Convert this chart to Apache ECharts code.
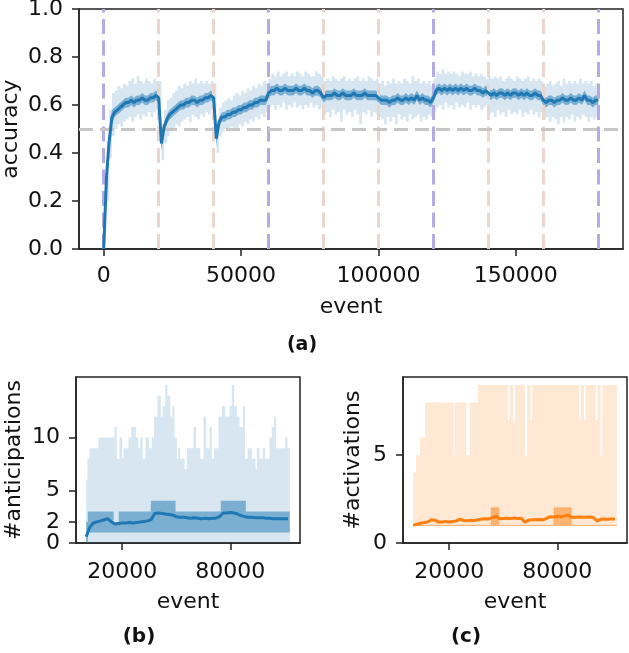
<!DOCTYPE html>
<html>
<head>
<meta charset="utf-8">
<script src="https://cdn.jsdelivr.net/npm/echarts@6.0.0/dist/echarts.min.js"></script>
<style>
  html, body { margin: 0; padding: 0; background: #fff; }
  #chart { width: 629px; height: 653px; }
</style>
</head>
<body>
<div id="chart"></div>
<script>
// ---- (a) accuracy, one sample every 1000 events from 0 to 180000 ----
var accStep = 1000;
var accMean = [0.00,0.30,0.45,0.55,0.57,0.58,0.59,0.60,0.61,0.61,
0.62,0.61,0.62,0.62,0.63,0.62,0.62,0.63,0.63,0.64,
0.63,0.44,0.51,0.54,0.56,0.57,0.58,0.59,0.60,0.60,
0.61,0.61,0.62,0.62,0.61,0.62,0.62,0.63,0.63,0.64,
0.63,0.46,0.53,0.55,0.55,0.56,0.56,0.57,0.57,0.58,
0.58,0.59,0.59,0.60,0.60,0.61,0.61,0.62,0.62,0.62,
0.65,0.66,0.66,0.67,0.66,0.66,0.67,0.66,0.66,0.66,
0.67,0.66,0.66,0.67,0.66,0.66,0.65,0.66,0.66,0.65,
0.63,0.64,0.64,0.64,0.65,0.64,0.64,0.65,0.64,0.64,
0.64,0.65,0.64,0.64,0.64,0.65,0.64,0.64,0.64,0.64,
0.63,0.62,0.62,0.62,0.61,0.62,0.62,0.63,0.62,0.62,
0.63,0.62,0.63,0.62,0.64,0.62,0.63,0.62,0.62,0.61,
0.63,0.66,0.67,0.66,0.67,0.66,0.67,0.66,0.67,0.66,
0.67,0.66,0.67,0.66,0.66,0.67,0.66,0.66,0.65,0.66,
0.65,0.64,0.65,0.64,0.65,0.65,0.64,0.65,0.64,0.65,
0.65,0.64,0.65,0.64,0.65,0.64,0.64,0.65,0.64,0.64,
0.62,0.61,0.62,0.62,0.61,0.62,0.62,0.63,0.62,0.62,
0.63,0.62,0.62,0.63,0.62,0.64,0.62,0.62,0.61,0.62,
0.62];
var accInLo = [0.00,0.25,0.41,0.52,0.55,0.56,0.57,0.58,0.59,0.59,
0.60,0.59,0.60,0.60,0.61,0.60,0.60,0.61,0.61,0.62,
0.61,0.41,0.49,0.52,0.54,0.55,0.56,0.57,0.58,0.58,
0.59,0.59,0.60,0.60,0.59,0.60,0.60,0.61,0.61,0.62,
0.61,0.43,0.51,0.53,0.53,0.54,0.54,0.55,0.55,0.56,
0.56,0.57,0.57,0.58,0.58,0.59,0.59,0.60,0.60,0.60,
0.63,0.64,0.64,0.65,0.64,0.64,0.65,0.64,0.64,0.64,
0.65,0.64,0.64,0.65,0.64,0.64,0.63,0.64,0.64,0.63,
0.61,0.62,0.62,0.62,0.63,0.62,0.62,0.63,0.62,0.62,
0.62,0.63,0.62,0.62,0.62,0.63,0.62,0.62,0.62,0.62,
0.61,0.60,0.60,0.60,0.59,0.60,0.60,0.61,0.60,0.60,
0.61,0.60,0.61,0.60,0.62,0.60,0.61,0.60,0.60,0.59,
0.61,0.64,0.65,0.64,0.65,0.64,0.65,0.64,0.65,0.64,
0.65,0.64,0.65,0.64,0.64,0.65,0.64,0.64,0.63,0.64,
0.63,0.62,0.63,0.62,0.63,0.63,0.62,0.63,0.62,0.63,
0.63,0.62,0.63,0.62,0.63,0.62,0.62,0.63,0.62,0.62,
0.60,0.59,0.60,0.60,0.59,0.60,0.60,0.61,0.60,0.60,
0.61,0.60,0.60,0.61,0.60,0.62,0.60,0.60,0.59,0.60,
0.60];
var accInHi = [0.00,0.36,0.50,0.58,0.59,0.60,0.61,0.62,0.63,0.63,
0.64,0.63,0.64,0.64,0.65,0.64,0.64,0.65,0.65,0.66,
0.65,0.47,0.53,0.56,0.58,0.59,0.60,0.61,0.62,0.62,
0.63,0.63,0.64,0.64,0.63,0.64,0.64,0.65,0.65,0.66,
0.65,0.49,0.55,0.57,0.57,0.58,0.58,0.59,0.59,0.60,
0.60,0.61,0.61,0.62,0.62,0.63,0.63,0.64,0.64,0.64,
0.67,0.68,0.68,0.69,0.68,0.68,0.69,0.68,0.68,0.68,
0.69,0.68,0.68,0.69,0.68,0.68,0.67,0.68,0.68,0.67,
0.65,0.66,0.66,0.66,0.67,0.66,0.66,0.67,0.66,0.66,
0.66,0.67,0.66,0.66,0.66,0.67,0.66,0.66,0.66,0.66,
0.65,0.64,0.64,0.64,0.63,0.64,0.64,0.65,0.64,0.64,
0.65,0.64,0.65,0.64,0.66,0.64,0.65,0.64,0.64,0.63,
0.65,0.68,0.69,0.68,0.69,0.68,0.69,0.68,0.69,0.68,
0.69,0.68,0.69,0.68,0.68,0.69,0.68,0.68,0.67,0.68,
0.67,0.66,0.67,0.66,0.67,0.67,0.66,0.67,0.66,0.67,
0.67,0.66,0.67,0.66,0.67,0.66,0.66,0.67,0.66,0.66,
0.64,0.63,0.64,0.64,0.63,0.64,0.64,0.65,0.64,0.64,
0.65,0.64,0.64,0.65,0.64,0.66,0.64,0.64,0.63,0.64,
0.64];
var accOutLo = [0.00,0.20,0.38,0.47,0.50,0.52,0.51,0.53,0.54,0.55,
0.53,0.55,0.56,0.54,0.56,0.55,0.57,0.55,0.57,0.58,
0.56,0.37,0.44,0.47,0.49,0.50,0.52,0.51,0.53,0.54,
0.55,0.53,0.56,0.55,0.54,0.56,0.55,0.57,0.56,0.58,
0.57,0.40,0.47,0.49,0.50,0.49,0.51,0.50,0.49,0.52,
0.51,0.53,0.52,0.54,0.53,0.55,0.54,0.56,0.55,0.57,
0.59,0.60,0.58,0.60,0.59,0.61,0.58,0.60,0.59,0.61,
0.59,0.60,0.58,0.60,0.59,0.61,0.59,0.60,0.58,0.59,
0.56,0.57,0.55,0.58,0.56,0.57,0.53,0.58,0.56,0.57,
0.55,0.58,0.56,0.52,0.57,0.56,0.58,0.55,0.57,0.56,
0.55,0.54,0.52,0.55,0.53,0.55,0.52,0.56,0.54,0.55,
0.53,0.56,0.54,0.55,0.56,0.53,0.55,0.54,0.56,0.55,
0.57,0.59,0.60,0.58,0.61,0.59,0.60,0.58,0.61,0.59,
0.60,0.59,0.61,0.58,0.60,0.59,0.60,0.58,0.59,0.60,
0.56,0.57,0.55,0.58,0.56,0.57,0.55,0.58,0.56,0.57,
0.56,0.58,0.55,0.57,0.56,0.58,0.56,0.57,0.55,0.57,
0.54,0.55,0.53,0.55,0.54,0.52,0.55,0.53,0.55,0.54,
0.56,0.53,0.55,0.54,0.56,0.55,0.53,0.55,0.54,0.55,
0.56];
var accOutHi = [0.00,0.45,0.58,0.65,0.66,0.68,0.67,0.69,0.68,0.70,
0.71,0.69,0.72,0.70,0.69,0.71,0.70,0.69,0.71,0.70,
0.70,0.52,0.58,0.62,0.63,0.65,0.66,0.68,0.67,0.69,
0.68,0.70,0.69,0.71,0.69,0.70,0.69,0.70,0.69,0.70,
0.69,0.53,0.59,0.61,0.62,0.63,0.62,0.64,0.65,0.64,
0.66,0.65,0.67,0.66,0.68,0.67,0.69,0.68,0.70,0.69,
0.71,0.73,0.72,0.74,0.72,0.73,0.74,0.72,0.73,0.72,
0.74,0.73,0.72,0.74,0.73,0.72,0.72,0.74,0.73,0.72,
0.70,0.71,0.70,0.72,0.71,0.70,0.71,0.72,0.70,0.71,
0.70,0.71,0.72,0.70,0.71,0.70,0.72,0.71,0.70,0.71,
0.69,0.70,0.68,0.70,0.69,0.71,0.69,0.70,0.69,0.71,
0.70,0.69,0.72,0.70,0.71,0.69,0.70,0.69,0.70,0.68,
0.71,0.74,0.73,0.75,0.73,0.74,0.73,0.74,0.73,0.72,
0.74,0.73,0.73,0.74,0.72,0.73,0.72,0.73,0.72,0.71,
0.72,0.71,0.72,0.71,0.72,0.70,0.71,0.72,0.71,0.70,
0.72,0.71,0.70,0.71,0.72,0.70,0.71,0.70,0.71,0.70,
0.68,0.69,0.70,0.68,0.69,0.70,0.68,0.71,0.69,0.70,
0.69,0.70,0.69,0.71,0.69,0.70,0.69,0.70,0.68,0.69,
0.69];
var accXTicks = [0, 50000, 100000, 150000];
var accYTicks = [0, 0.2, 0.4, 0.6, 0.8, 1.0];
var taskX = [0, 60000, 120000, 180000];          // purple boundaries
var subX = [20000, 40000, 80000, 100000, 140000, 160000]; // beige boundaries
var chanceLevel = 0.5;

// ---- (b) anticipations ----
var antStep = 2000;
var antMean = [0.6,1.5,1.9,2.0,2.1,2.2,2.3,2.0,1.8,1.85,
1.9,1.9,1.95,1.9,1.95,2.0,2.05,2.1,2.2,2.8,
2.85,2.8,2.75,2.7,2.65,2.5,2.45,2.45,2.4,2.35,
2.4,2.35,2.3,2.35,2.3,2.35,2.35,2.5,2.85,2.85,
2.9,2.85,2.75,2.6,2.5,2.45,2.45,2.4,2.4,2.4,
2.35,2.35,2.3,2.3,2.3,2.3,2.3];
var antQX  = [0, 900, 15200, 18100, 35900, 49600, 74700, 88600, 113000];
var antQLo = [0, 1, 1, 1, 1, 1, 1, 1, 1];
var antQHi = [2, 3, 2, 3, 4, 3, 4, 3, 3];
var antMaxX = [0,700,1800,6800,15700,17000,18500,20000,20700,23500,25000,27600,29000,30000,31300,
32900,34800,36400,37700,39600,41400,42500,43800,45100,46600,47900,49000,50300,51100,52200,
54600,55900,59600,61000,63300,65100,66600,68500,69700,71000,73400,75300,77100,79500,80800,
82100,83600,85100,87000,88100,89700,91900,94000,94700,96200,98000,99300,101700,103000,104300,
105400,110400,111700,113000];
var antMaxV = [6,8,9,10,11,8,10,8,9,10,11,10,9,10,8,
10,9,10,12,14,12,13,15,14,12,13,10,8,9,8,
7,9,11,9,8,12,9,11,8,9,12,13,12,13,15,
13,12,11,13,8,9,8,7,9,8,9,8,10,11,12,
9,10,9,8];
var antMin = 0;
var antYTicks = [0, 5, 10];
var antYTicksExtra = [2];   // sits too close to 0 for one axis to keep both

// ---- (c) activations ----
var actStep = 2000;
var actMean = [1.00,1.07,1.12,1.16,1.20,1.32,1.30,1.20,1.20,1.22,
1.20,1.23,1.26,1.36,1.28,1.27,1.29,1.28,1.32,1.36,
1.38,1.37,1.45,1.52,1.38,1.40,1.41,1.40,1.42,1.40,
1.41,1.18,1.30,1.33,1.32,1.34,1.32,1.40,1.50,1.48,
1.52,1.50,1.53,1.60,1.47,1.46,1.48,1.47,1.46,1.48,
1.45,1.25,1.35,1.36,1.35,1.36,1.36];
var actQX  = [0, 43300, 47500, 78200, 87700, 113000];
var actQLo = [1, 1, 1, 1, 1, 1];
var actQHi = [1, 2, 1, 2, 1, 1];
var actMaxX = [0,1600,3800,6600,22400,23000,29500,31400,35900,52500,53500,55500,56500,62000,
63300,65000,66000,92000,93000,94800,95600,101200,102300,104000,105000,113000];
var actMaxV = [4,5,6,8,5,8,5,8,9,7,9,7,9,5,
9,7,9,7,9,7,9,7,9,5,9,9];
var actMin = 1;
var actYTicks = [0, 5];

var smallXTicks = [20000, 80000];

var FONT = 'DejaVu Sans';
var INK = '#222';
var FS = 22;

function pairs(step, ys) {
  var out = [];
  for (var i = 0; i < ys.length; i++) out.push([i * step, ys[i]]);
  return out;
}
function eventsOf(step, n) {
  var out = [];
  for (var i = 0; i < n; i++) out.push(i * step);
  return out;
}

// filled band between lo and hi drawn through the axis scales
function band(gi, xs, lo, hi, fill, step, z, stroke) {
  return {
    type: 'custom', coordinateSystem: 'cartesian2d',
    xAxisIndex: gi, yAxisIndex: gi, silent: true, clip: true, z: z,
    data: [[xs[0], hi[0]]],
    renderItem: function (params, api) {
      var up = [], dn = [];
      for (var i = 0; i < xs.length; i++) {
        var l = typeof lo === 'number' ? lo : lo[i];
        if (step) {
          if (i === xs.length - 1) break;
          up.push(api.coord([xs[i], hi[i]]), api.coord([xs[i + 1], hi[i]]));
          dn.push(api.coord([xs[i], l]), api.coord([xs[i + 1], l]));
        } else {
          up.push(api.coord([xs[i], hi[i]]));
          dn.push(api.coord([xs[i], l]));
        }
      }
      var style = { fill: fill };
      if (stroke) { style.stroke = stroke; style.lineWidth = 1; }
      return { type: 'polygon', shape: { points: up.concat(dn.reverse()) }, style: style };
    }
  };
}

function meanLine(gi, data, color) {
  return {
    type: 'line', xAxisIndex: gi, yAxisIndex: gi, data: data, z: 5,
    showSymbol: false, symbol: 'none', silent: true,
    lineStyle: { color: color, width: 3 }
  };
}

function xAxis(gi, min, max, ticks, margin, gap) {
  return {
    type: 'value', gridIndex: gi, min: min, max: max,
    name: 'event', nameLocation: 'middle', nameGap: gap, nameMoveOverlap: false,
    nameTextStyle: { fontFamily: FONT, fontSize: FS, color: '#111' },
    axisLine: { show: true, onZero: false, lineStyle: { color: INK, width: 1.5 } },
    axisTick: { show: true, length: 7, customValues: ticks, lineStyle: { color: INK, width: 1.5 } },
    axisLabel: { customValues: ticks, margin: margin, hideOverlap: false, fontFamily: FONT, fontSize: FS, color: '#111',
      formatter: function (v) { return String(v); } },
    splitLine: { show: false }
  };
}

function yAxis(gi, name, min, max, ticks, gap, fmt) {
  return {
    type: 'value', gridIndex: gi, position: 'left', min: min, max: max,
    name: name, nameLocation: 'middle', nameGap: gap, nameMoveOverlap: false,
    nameTextStyle: { fontFamily: FONT, fontSize: FS, color: '#111' },
    axisLine: { show: true, onZero: false, lineStyle: { color: INK, width: 1.5 } },
    axisTick: { show: true, length: 7, customValues: ticks, lineStyle: { color: INK, width: 1.5 } },
    axisLabel: { customValues: ticks, margin: 16, hideOverlap: false, fontFamily: FONT, fontSize: FS, color: '#111',
      showMinLabel: true, showMaxLabel: true,
      formatter: fmt || function (v) { return String(v); } },
    splitLine: { show: false }
  };
}

var boundaryLines = [];
taskX.forEach(function (x) {
  boundaryLines.push({ xAxis: x, lineStyle: { color: '#b3ace3', width: 3, type: [15, 6.5] } });
});
subX.forEach(function (x) {
  boundaryLines.push({ xAxis: x, lineStyle: { color: '#e8d6cf', width: 3, type: [15, 6.5] } });
});
boundaryLines.push({ yAxis: chanceLevel, lineStyle: { color: '#c6c6c6', width: 3, type: [14, 7] } });

var accX = eventsOf(accStep, accMean.length);

function gridBox(left, top, width, height) {
  return { left: left, top: top, width: width, height: height, containLabel: false,
    outerBoundsMode: 'none', show: true, borderColor: INK, borderWidth: 1.5 };
}

// second left axis on panel (b) only carries the "2" tick
var extraAntAxis = yAxis(1, '', 0, 15.75, antYTicksExtra, 0);
extraAntAxis.axisLine = { show: false, onZero: false };
extraAntAxis.offset = 0;

var option = {
  animation: false,
  backgroundColor: '#fff',
  grid: [
    gridBox(79, 9, 544, 240),
    gridBox(76, 377, 224, 166),
    gridBox(403, 377, 224, 166)
  ],
  xAxis: [
    xAxis(0, -9000, 189000, accXTicks, 16, 47),
    xAxis(1, -5650, 118650, smallXTicks, 18, 48),
    xAxis(2, -5650, 118650, smallXTicks, 18, 48)
  ],
  yAxis: [
    yAxis(0, 'accuracy', 0, 1, accYTicks, 57, function (v) { return v.toFixed(1); }),
    yAxis(1, '#anticipations', 0, 15.75, antYTicks, 51),
    yAxis(2, '#activations', 0, 9.45, actYTicks, 39),
    extraAntAxis
  ],
  graphic: [
    { type: 'text', x: 302, y: 345, style: { text: '(a)', font: 'bold 19px "DejaVu Sans"', fill: '#111', align: 'center', verticalAlign: 'middle' } },
    { type: 'text', x: 139, y: 637, style: { text: '(b)', font: 'bold 20px "DejaVu Sans"', fill: '#111', align: 'center', verticalAlign: 'middle' } },
    { type: 'text', x: 466, y: 637, style: { text: '(c)', font: 'bold 20px "DejaVu Sans"', fill: '#111', align: 'center', verticalAlign: 'middle' } }
  ],
  series: [
    {
      type: 'line', xAxisIndex: 0, yAxisIndex: 0, data: [], z: 1, silent: true,
      markLine: { symbol: 'none', silent: true, animation: false, label: { show: false }, data: boundaryLines }
    },
    band(0, accX, accOutLo, accOutHi, 'rgba(31,119,180,0.18)', true, 2),
    band(0, accX, accInLo, accInHi, 'rgba(31,119,180,0.5)', false, 3),
    meanLine(0, pairs(accStep, accMean), '#1f77b4'),

    band(1, antMaxX, antMin, antMaxV, 'rgba(31,119,180,0.18)', true, 2),
    band(1, antQX, antQLo, antQHi, 'rgba(31,119,180,0.5)', true, 3),
    meanLine(1, pairs(antStep, antMean), '#1f77b4'),

    band(2, actMaxX, actMin, actMaxV, 'rgba(255,127,14,0.18)', true, 2),
    band(2, actQX, actQLo, actQHi, 'rgba(255,127,14,0.5)', true, 3, 'rgba(255,127,14,0.35)'),
    meanLine(2, pairs(actStep, actMean), '#ff7f0e')
  ]
};

var chart = echarts.init(document.getElementById('chart'), null, { renderer: 'canvas' });
chart.setOption(option);
</script>
</body>
</html>
